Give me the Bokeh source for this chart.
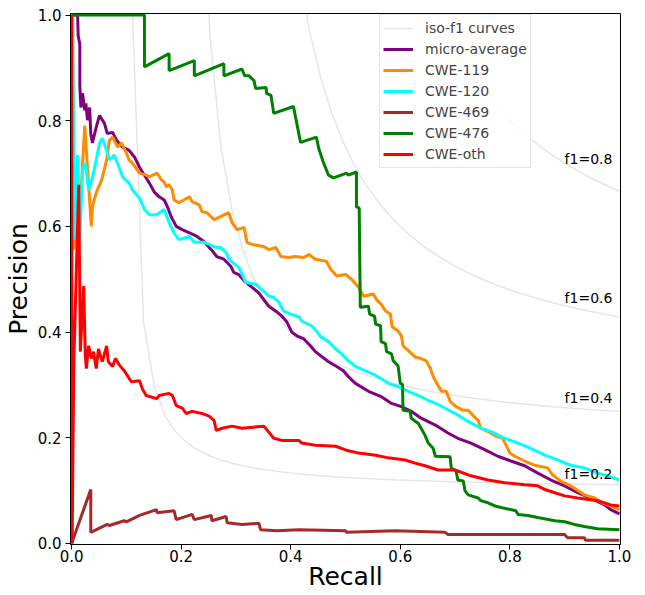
import numpy as np
from bokeh.plotting import figure
from bokeh.models import Range1d, FixedTicker, Legend, LegendItem, Label
from bokeh.embed import file_html
from bokeh.resources import INLINE

# ---------------- data (recall, precision) ----------------
micro_average = [(0, 1.0), (0.011, 1.0), (0.012, 0.961), (0.015, 0.945), (0.015, 0.867), (0.017, 0.825),
    (0.020, 0.852), (0.024, 0.820), (0.026, 0.833), (0.029, 0.801), (0.033, 0.825), (0.035, 0.776),
    (0.038, 0.758), (0.045, 0.788), (0.051, 0.810), (0.060, 0.795), (0.065, 0.776), (0.075, 0.778),
    (0.082, 0.763), (0.093, 0.750), (0.105, 0.744), (0.115, 0.731), (0.124, 0.712), (0.133, 0.697),
    (0.142, 0.682), (0.151, 0.665), (0.160, 0.656), (0.169, 0.650), (0.175, 0.637), (0.182, 0.618),
    (0.191, 0.600), (0.202, 0.594), (0.215, 0.588), (0.229, 0.581), (0.242, 0.571), (0.255, 0.556),
    (0.265, 0.543), (0.278, 0.538), (0.291, 0.524), (0.296, 0.513), (0.305, 0.509), (0.318, 0.494),
    (0.329, 0.485), (0.342, 0.474), (0.351, 0.461), (0.360, 0.449), (0.375, 0.438), (0.384, 0.430),
    (0.393, 0.419), (0.402, 0.400), (0.411, 0.393), (0.424, 0.387), (0.436, 0.374), (0.445, 0.363),
    (0.455, 0.355), (0.469, 0.344), (0.484, 0.335), (0.496, 0.327), (0.505, 0.316), (0.518, 0.303),
    (0.542, 0.288), (0.565, 0.278), (0.584, 0.265), (0.602, 0.259), (0.620, 0.250), (0.638, 0.237),
    (0.664, 0.224), (0.687, 0.209), (0.705, 0.199), (0.729, 0.190), (0.755, 0.177), (0.778, 0.165),
    (0.802, 0.156), (0.827, 0.147), (0.851, 0.133), (0.875, 0.120), (0.900, 0.109), (0.924, 0.096),
    (0.947, 0.086), (0.973, 0.073), (0.984, 0.064), (1.0, 0.056)]

cwe_119 = [(0, 1.0), (0.002, 1.0), (0.004, 0.556), (0.015, 0.622), (0.024, 0.791), (0.036, 0.600),
    (0.038, 0.637), (0.045, 0.664), (0.055, 0.688), (0.064, 0.726), (0.069, 0.763), (0.075, 0.769),
    (0.084, 0.750), (0.091, 0.758), (0.100, 0.739), (0.105, 0.726), (0.111, 0.720), (0.124, 0.701),
    (0.136, 0.697), (0.142, 0.694), (0.156, 0.701), (0.164, 0.688), (0.169, 0.684), (0.173, 0.675),
    (0.178, 0.679), (0.184, 0.669), (0.187, 0.650), (0.196, 0.645), (0.205, 0.650), (0.215, 0.656),
    (0.220, 0.647), (0.233, 0.641), (0.238, 0.628), (0.247, 0.626), (0.260, 0.613), (0.269, 0.617),
    (0.287, 0.626), (0.293, 0.607), (0.302, 0.594), (0.315, 0.598), (0.320, 0.570), (0.329, 0.566),
    (0.351, 0.562), (0.360, 0.556), (0.373, 0.560), (0.382, 0.543), (0.396, 0.541), (0.409, 0.543),
    (0.424, 0.541), (0.433, 0.547), (0.445, 0.538), (0.465, 0.534), (0.473, 0.519), (0.484, 0.506),
    (0.500, 0.509), (0.511, 0.500), (0.524, 0.485), (0.533, 0.468), (0.551, 0.472), (0.556, 0.462),
    (0.565, 0.453), (0.573, 0.440), (0.582, 0.434), (0.585, 0.410), (0.596, 0.402), (0.602, 0.393),
    (0.605, 0.374), (0.615, 0.365), (0.627, 0.353), (0.638, 0.350), (0.647, 0.346), (0.655, 0.331),
    (0.660, 0.316), (0.669, 0.299), (0.675, 0.288), (0.684, 0.288), (0.691, 0.269), (0.702, 0.259),
    (0.715, 0.252), (0.724, 0.252), (0.733, 0.242), (0.742, 0.233), (0.747, 0.218), (0.765, 0.209),
    (0.775, 0.203), (0.787, 0.199), (0.793, 0.186), (0.800, 0.171), (0.809, 0.165), (0.827, 0.156),
    (0.845, 0.148), (0.869, 0.143), (0.878, 0.130), (0.893, 0.118), (0.911, 0.109), (0.924, 0.100),
    (0.936, 0.092), (0.955, 0.086), (0.969, 0.077), (0.984, 0.071), (1.0, 0.064)]

cwe_120 = [(0, 1.0), (0.002, 1.0), (0.005, 0.575), (0.011, 0.735), (0.015, 0.575), (0.020, 0.707),
    (0.025, 0.720), (0.031, 0.669), (0.038, 0.692), (0.045, 0.726), (0.051, 0.758), (0.056, 0.767),
    (0.064, 0.744), (0.069, 0.726), (0.078, 0.735), (0.087, 0.711), (0.093, 0.694), (0.105, 0.682),
    (0.111, 0.669), (0.124, 0.654), (0.133, 0.632), (0.142, 0.622), (0.155, 0.622), (0.169, 0.632),
    (0.178, 0.607), (0.187, 0.588), (0.196, 0.575), (0.215, 0.581), (0.224, 0.570), (0.242, 0.570),
    (0.251, 0.566), (0.264, 0.560), (0.273, 0.560), (0.282, 0.551), (0.287, 0.538), (0.296, 0.530),
    (0.305, 0.523), (0.318, 0.494), (0.336, 0.491), (0.342, 0.485), (0.351, 0.477), (0.360, 0.468),
    (0.369, 0.466), (0.378, 0.457), (0.387, 0.440), (0.400, 0.434), (0.415, 0.429), (0.420, 0.421),
    (0.438, 0.412), (0.447, 0.402), (0.455, 0.391), (0.469, 0.382), (0.482, 0.368), (0.493, 0.359),
    (0.505, 0.346), (0.518, 0.335), (0.536, 0.327), (0.555, 0.318), (0.565, 0.312), (0.578, 0.303),
    (0.596, 0.297), (0.615, 0.288), (0.633, 0.280), (0.651, 0.271), (0.669, 0.263), (0.700, 0.246),
    (0.724, 0.231), (0.747, 0.218), (0.765, 0.212), (0.791, 0.199), (0.815, 0.190), (0.838, 0.180),
    (0.864, 0.167), (0.887, 0.158), (0.911, 0.148), (0.936, 0.143), (0.960, 0.133), (0.978, 0.128),
    (1.0, 0.120)]

cwe_469 = [(0, 0.0), (0.035, 0.102), (0.035, 0.021), (0.065, 0.036), (0.069, 0.034), (0.096, 0.043),
    (0.100, 0.041), (0.124, 0.053), (0.155, 0.064), (0.156, 0.058), (0.187, 0.062), (0.191, 0.045),
    (0.220, 0.055), (0.224, 0.045), (0.255, 0.053), (0.256, 0.043), (0.282, 0.051), (0.284, 0.039),
    (0.311, 0.036), (0.342, 0.038), (0.345, 0.026), (0.375, 0.024), (0.415, 0.026), (0.500, 0.024),
    (0.502, 0.021), (0.591, 0.024), (0.682, 0.021), (0.687, 0.017), (0.900, 0.017), (0.905, 0.011),
    (0.936, 0.011), (0.938, 0.006), (1.0, 0.006)]

cwe_476 = [(0, 1.0), (0.133, 1.0), (0.133, 0.902), (0.178, 0.927), (0.178, 0.895), (0.224, 0.914),
    (0.224, 0.885), (0.278, 0.908), (0.278, 0.885), (0.311, 0.898), (0.316, 0.885), (0.324, 0.885),
    (0.333, 0.876), (0.336, 0.861), (0.355, 0.863), (0.356, 0.852), (0.364, 0.848), (0.369, 0.814),
    (0.405, 0.827), (0.409, 0.806), (0.418, 0.759), (0.447, 0.769), (0.451, 0.748), (0.460, 0.720),
    (0.469, 0.697), (0.478, 0.692), (0.502, 0.701), (0.505, 0.697), (0.520, 0.703), (0.520, 0.637),
    (0.525, 0.635), (0.527, 0.447), (0.542, 0.449), (0.544, 0.434), (0.553, 0.430), (0.555, 0.415),
    (0.564, 0.412), (0.565, 0.382), (0.573, 0.378), (0.575, 0.363), (0.584, 0.359), (0.587, 0.346),
    (0.596, 0.336), (0.600, 0.303), (0.604, 0.301), (0.605, 0.252), (0.618, 0.250), (0.620, 0.237),
    (0.633, 0.227), (0.638, 0.218), (0.645, 0.205), (0.651, 0.190), (0.660, 0.180), (0.664, 0.165),
    (0.691, 0.164), (0.693, 0.143), (0.702, 0.137), (0.705, 0.120), (0.715, 0.118), (0.718, 0.100),
    (0.724, 0.092), (0.742, 0.086), (0.747, 0.081), (0.760, 0.077), (0.773, 0.071), (0.784, 0.068),
    (0.811, 0.062), (0.815, 0.055), (0.833, 0.053), (0.851, 0.049), (0.882, 0.043), (0.900, 0.041),
    (0.918, 0.036), (0.936, 0.032), (0.960, 0.028), (1.0, 0.026)]

cwe_oth = [(0, 1.0), (0.001, 0.0), (0.004, 0.340), (0.013, 0.679), (0.016, 0.363), (0.022, 0.487),
    (0.025, 0.355), (0.027, 0.331), (0.031, 0.374), (0.036, 0.350), (0.040, 0.363), (0.045, 0.331),
    (0.049, 0.368), (0.056, 0.344), (0.064, 0.374), (0.067, 0.344), (0.075, 0.335), (0.080, 0.350),
    (0.087, 0.338), (0.096, 0.327), (0.109, 0.306), (0.124, 0.308), (0.129, 0.293), (0.136, 0.280),
    (0.155, 0.274), (0.160, 0.280), (0.178, 0.284), (0.184, 0.280), (0.191, 0.261), (0.202, 0.256),
    (0.209, 0.246), (0.220, 0.250), (0.238, 0.246), (0.251, 0.241), (0.260, 0.233), (0.264, 0.214),
    (0.275, 0.218), (0.293, 0.222), (0.311, 0.218), (0.351, 0.222), (0.369, 0.199), (0.384, 0.195),
    (0.415, 0.195), (0.420, 0.190), (0.445, 0.186), (0.482, 0.184), (0.500, 0.177), (0.524, 0.171),
    (0.555, 0.167), (0.578, 0.162), (0.609, 0.158), (0.627, 0.152), (0.645, 0.147), (0.669, 0.139),
    (0.700, 0.139), (0.729, 0.128), (0.760, 0.120), (0.791, 0.115), (0.827, 0.111), (0.851, 0.109),
    (0.864, 0.102), (0.882, 0.096), (0.900, 0.090), (0.924, 0.086), (0.960, 0.081), (0.984, 0.073),
    (1.0, 0.071)]

series_names = ["micro-average", "CWE-119", "CWE-120", "CWE-469", "CWE-476", "CWE-oth"]
series_data = [micro_average, cwe_119, cwe_120, cwe_469, cwe_476, cwe_oth]
series_colors = ["purple", "darkorange", "cyan", "brown", "green", "red"]

iso_f1_scores = [0.2, 0.4, 0.6, 0.8]
tick_values = [0.0, 0.2, 0.4, 0.6, 0.8, 1.0]
tick_labels = ["0.0", "0.2", "0.4", "0.6", "0.8", "1.0"]

FONT = "DejaVu Sans"
FRAME_H = 531

p = figure(frame_width=550, frame_height=FRAME_H, output_backend="svg", toolbar_location=None,
           x_range=Range1d(-0.002, 1.002), y_range=Range1d(-0.002, 1.003),
           min_border_left=64, min_border_right=15, min_border_top=13, min_border_bottom=48)
p.background_fill_color = "white"
p.border_fill_color = "white"
p.outline_line_color = "black"
p.outline_line_width = 1
p.xgrid.visible = False
p.ygrid.visible = False

for ax in (p.xaxis[0], p.yaxis[0]):
    ax.ticker = FixedTicker(ticks=tick_values)
    ax.major_label_overrides = {v: s for v, s in zip(tick_values, tick_labels)}
    ax.major_label_text_font = FONT
    ax.major_label_text_font_size = "15px"
    ax.major_label_text_color = "black"
    ax.major_tick_in = 0
    ax.major_tick_out = 5
    ax.minor_tick_in = 0
    ax.minor_tick_out = 0
    ax.axis_line_color = "black"
    ax.major_tick_line_color = "black"
    ax.axis_label_text_font = FONT
    ax.axis_label_text_font_size = "25px"
    ax.axis_label_text_font_style = "normal"
    ax.axis_label_text_color = "black"

p.xaxis.major_label_standoff = 0
p.yaxis.major_label_standoff = 4
p.xaxis.axis_label = "Recall"
p.xaxis.axis_label_standoff = -3
p.yaxis.axis_label = "Precision"
p.yaxis.axis_label_standoff = 2

# iso-f1 curves
iso_renderers = []
for f in iso_f1_scores:
    x = np.linspace(0.01, 1)
    y = f * x / (2 * x - f)
    m = y >= 0
    r = p.line(x[m], y[m], line_color="gray", line_alpha=0.2, line_width=1.5)
    iso_renderers.append(r)
    p.add_layout(Label(x=0.9, y=y[45] + 0.02, text="f1={0:0.1f}".format(f), text_font=FONT,
                       text_font_size="14px", text_color="black", text_baseline="alphabetic"))

items = [LegendItem(label="iso-f1 curves", renderers=[iso_renderers[0]])]
for name, data, color in zip(series_names, series_data, series_colors):
    rr = [d[0] for d in data]
    pp = [d[1] for d in data]
    r = p.line(rr, pp, line_color=color, line_width=3)
    items.append(LegendItem(label=name, renderers=[r]))

LEG_H = 2 * 3 + 7 * 20 + 6 * 1
legend = Legend(items=items, location=(309, FRAME_H - 3 - LEG_H))
legend.label_text_font = FONT
legend.label_text_font_size = "14px"
legend.label_height = 20
legend.glyph_height = 20
legend.glyph_width = 30
legend.label_standoff = 12
legend.label_width = 100
legend.spacing = 1
legend.padding = 3
legend.margin = 0
legend.border_line_color = "#cccccc"
legend.border_line_width = 1
legend.background_fill_alpha = 0.8
p.add_layout(legend)

open("out.html", "w").write(file_html(p, INLINE))
